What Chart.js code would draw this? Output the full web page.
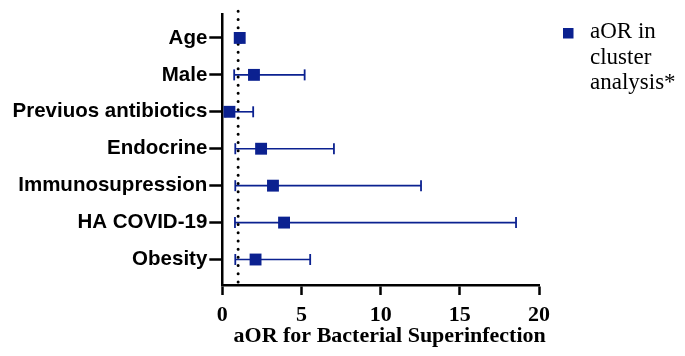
<!DOCTYPE html>
<html>
<head>
<meta charset="utf-8">
<script src="https://cdn.jsdelivr.net/npm/chart.js@4/dist/chart.umd.min.js"></script>
<style>
  html,body{margin:0;padding:0;background:#fff;}
  #wrap{width:685px;height:356px;}
</style>
</head>
<body>
<div id="wrap"><canvas id="chart" width="685" height="356"></canvas></div>
<script>
// --------- данные ---------
const factors=['Age','Male','Previuos antibiotics','Endocrine','Immunosupression','HA COVID-19','Obesity'];
const aor  =[1.1, 2.0, 0.45, 2.45, 3.2, 3.9, 2.1];
const ciLow=[1.02,0.75,0.2, 0.82, 0.82,0.8, 0.82];
const ciHigh=[1.18,5.2,1.95,7.05,12.55,18.55,5.55];
const refLine=1;
const xTicks=[0,5,10,15,20];
const xTitle='aOR for Bacterial Superinfection';
const legendLines=['aOR in','cluster','analysis*'];

const NAVY='#0b2190';
const SERIF='"Liberation Serif", "Times New Roman", serif';
const Y_MIN=-0.64, Y_MAX=6.69;

// --------- наборы ---------
const datasets=[];
datasets.push({
  label:'aOR',
  data:aor.map((v,i)=>({x:v,y:i})),
  showLine:false,
  pointStyle:'rect',
  pointRadius:8.4,
  pointHoverRadius:8.4,
  backgroundColor:NAVY,
  borderColor:NAVY,
  borderWidth:0
});
datasets.push({
  label:'ref',
  type:'line',
  data:[{x:refLine,y:Y_MIN-0.08},{x:refLine,y:Y_MAX-0.08}],
  showLine:true,
  borderColor:'#000',
  borderWidth:3,
  borderDash:[0,8.2],
  borderCapStyle:'round',
  pointRadius:0,
  fill:false
});
factors.forEach((f,i)=>{
  datasets.push({
    label:'ci'+i,
    type:'line',
    data:[{x:ciLow[i],y:i},{x:ciHigh[i],y:i}],
    showLine:true,
    borderColor:NAVY,
    borderWidth:1.6,
    pointStyle:'line',
    rotation:90,
    pointRadius:5.5,
    pointHoverRadius:5.5,
    pointBorderWidth:1.8,
    pointBorderColor:NAVY,
    fill:false
  });
});

// --------- подпись оси и легенда справа ---------
const extras={
  id:'extras',
  afterDraw(c){
    const ctx=c.ctx;
    ctx.save();
    // подпись оси X, немного правее центра
    ctx.fillStyle='#000';
    ctx.font='bold 22px '+SERIF;
    ctx.textAlign='center';
    ctx.textBaseline='middle';
    ctx.fillText(xTitle,c.chartArea.left+(c.chartArea.right-c.chartArea.left)/2+9,336);
    // легенда
    ctx.fillStyle=NAVY;
    ctx.fillRect(563,28,10.5,10.5);
    ctx.fillStyle='#000';
    ctx.font='23px '+SERIF;
    ctx.textBaseline='alphabetic';
    ctx.textAlign='left';
    legendLines.forEach((t,i)=>ctx.fillText(t,590,38+i*25.7));
    ctx.restore();
  }
};

// --------- график ---------
new Chart(document.getElementById('chart').getContext('2d'),{
  type:'scatter',
  data:{datasets:datasets},
  plugins:[extras],
  options:{
    responsive:false,
    animation:false,
    clip:false,
    layout:{padding:{left:10.5,right:146,top:12,bottom:21}},
    plugins:{legend:{display:false},tooltip:{enabled:false}},
    scales:{
      x:{
        type:'linear',min:0,max:20,
        afterBuildTicks:s=>{s.ticks=xTicks.map(v=>({value:v}));},
        grid:{drawOnChartArea:false,drawTicks:true,tickLength:10,tickWidth:2.5,tickColor:'#000'},
        border:{display:true,width:2.5,color:'#000'},
        ticks:{color:'#000',padding:9,font:{family:SERIF,size:22,weight:'bold',lineHeight:1.0}}
      },
      y:{
        type:'linear',min:Y_MIN,max:Y_MAX,reverse:true,
        afterBuildTicks:s=>{s.ticks=factors.map((f,i)=>({value:i}));},
        grid:{drawOnChartArea:false,drawTicks:true,tickLength:13,tickWidth:2.5,tickColor:'#000'},
        border:{display:true,width:2.5,color:'#000'},
        ticks:{color:'#000',padding:2,callback:v=>factors[v],
          font:{family:'"Liberation Sans", Arial, sans-serif',size:20.5,weight:'bold'}}
      }
    }
  }
});
</script>
</body>
</html>
